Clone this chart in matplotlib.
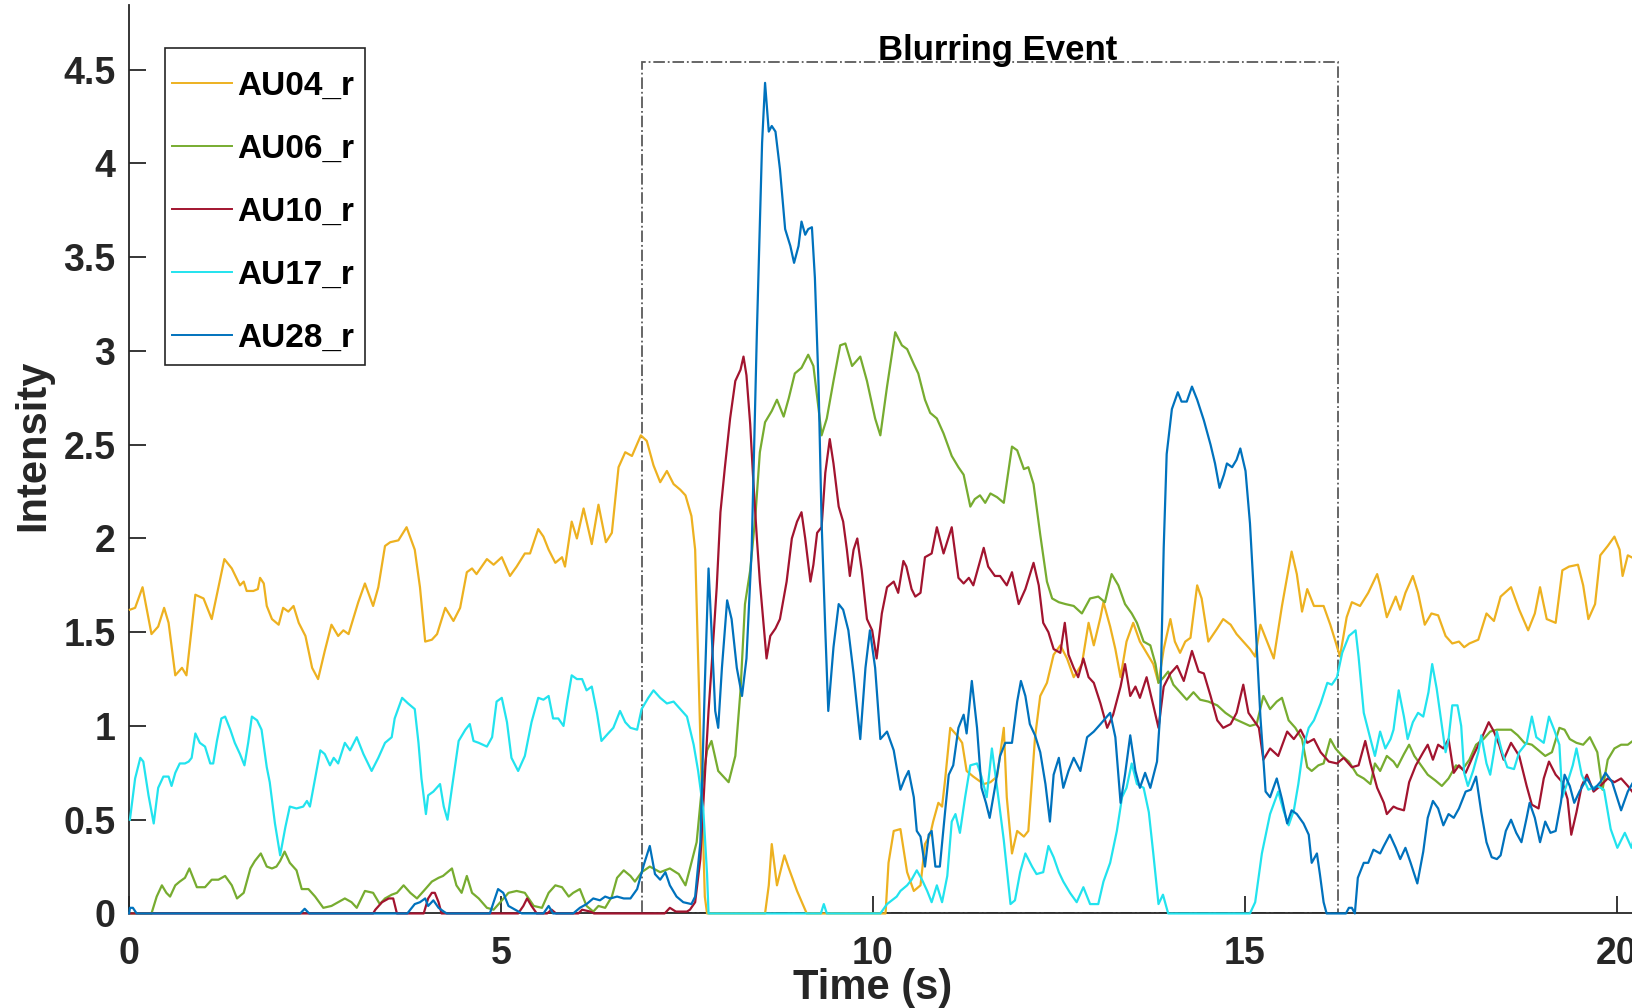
import matplotlib
matplotlib.use("Agg")
import matplotlib.pyplot as plt
from matplotlib.patches import Rectangle

plt.rcParams['font.family'] = ['Liberation Sans', 'DejaVu Sans']
plt.rcParams['font.weight'] = 'bold'

# AU04_r (orange)
au04_t = [0.01, 0.08, 0.18, 0.30, 0.39, 0.47, 0.53, 0.62, 0.71, 0.77, 0.89, 1.00, 1.11, 1.28, 1.38, 1.49,
          1.54, 1.58, 1.67, 1.73, 1.76, 1.81, 1.85, 1.92, 2.01, 2.07, 2.14, 2.21, 2.28, 2.37, 2.46, 2.54,
          2.63, 2.72, 2.81, 2.88, 2.95, 3.08, 3.17, 3.28, 3.35, 3.44, 3.51, 3.62, 3.73, 3.84, 3.91, 3.98,
          4.07, 4.14, 4.25, 4.36, 4.45, 4.54, 4.61, 4.67, 4.81, 4.90, 5.01, 5.12, 5.21, 5.32, 5.39, 5.50,
          5.57, 5.64, 5.73, 5.82, 5.86, 5.95, 6.02, 6.11, 6.22, 6.31, 6.41, 6.49, 6.58, 6.67, 6.76, 6.88,
          6.96, 7.05, 7.14, 7.23, 7.32, 7.41, 7.48, 7.56, 7.61, 7.65, 7.70, 7.74, 7.77, 8.55, 8.60, 8.64,
          8.71, 8.81, 8.87, 8.98, 9.11, 10.17, 10.21, 10.28, 10.37, 10.46, 10.55, 10.64, 10.70, 10.77,
          10.81, 10.88, 10.93, 10.97, 11.04, 11.13, 11.20, 11.26, 11.35, 11.49, 11.58, 11.67, 11.76, 11.80,
          11.87, 11.94, 12.03, 12.09, 12.18, 12.25, 12.34, 12.43, 12.52, 12.61, 12.70, 12.81, 12.90, 12.97,
          13.06, 13.10, 13.19, 13.26, 13.33, 13.41, 13.50, 13.59, 13.68, 13.77, 13.84, 13.91, 14.00, 14.06,
          14.13, 14.20, 14.27, 14.36, 14.42, 14.51, 14.63, 14.71, 14.81, 14.89, 14.98, 15.07, 15.14, 15.21,
          15.30, 15.39, 15.50, 15.63, 15.70, 15.77, 15.84, 15.93, 16.06, 16.15, 16.22, 16.28, 16.37, 16.44,
          16.55, 16.66, 16.78, 16.82, 16.91, 17.03, 17.09, 17.16, 17.26, 17.33, 17.42, 17.51, 17.60, 17.70,
          17.79, 17.88, 17.95, 18.02, 18.14, 18.25, 18.35, 18.44, 18.58, 18.69, 18.81, 18.90, 18.97, 19.06,
          19.18, 19.27, 19.36, 19.48, 19.55, 19.62, 19.71, 19.78, 19.88, 19.97, 20.04, 20.08, 20.15, 20.25,
          20.33]
au04_v = [1.62, 1.63, 1.74, 1.49, 1.53, 1.63, 1.55, 1.27, 1.31, 1.27, 1.70, 1.68, 1.57, 1.89, 1.84, 1.75,
          1.77, 1.72, 1.72, 1.73, 1.79, 1.76, 1.64, 1.57, 1.54, 1.63, 1.61, 1.64, 1.55, 1.48, 1.31, 1.25,
          1.40, 1.54, 1.48, 1.51, 1.49, 1.66, 1.76, 1.64, 1.74, 1.96, 1.98, 1.99, 2.06, 1.94, 1.74, 1.45,
          1.46, 1.49, 1.63, 1.56, 1.63, 1.82, 1.84, 1.81, 1.89, 1.86, 1.90, 1.80, 1.85, 1.92, 1.92, 2.05,
          2.01, 1.94, 1.87, 1.90, 1.85, 2.09, 2.00, 2.16, 1.97, 2.18, 1.98, 2.03, 2.38, 2.46, 2.44, 2.55,
          2.52, 2.39, 2.30, 2.36, 2.29, 2.26, 2.23, 2.12, 1.94, 1.36, 0.64, 0.09, 0.00, 0.00, 0.15, 0.37,
          0.15, 0.31, 0.24, 0.12, 0.00, 0.00, 0.27, 0.44, 0.45, 0.22, 0.12, 0.15, 0.37, 0.42,
          0.49, 0.59, 0.57, 0.71, 0.99, 0.95, 0.91, 0.76, 0.73, 0.69, 0.70, 0.73, 0.99, 0.62,
          0.32, 0.44, 0.41, 0.44, 0.94, 1.16, 1.23, 1.38, 1.43, 1.36, 1.26, 1.33, 1.55, 1.43,
          1.58, 1.66, 1.53, 1.41, 1.26, 1.45, 1.55, 1.45, 1.39, 1.33, 1.23, 1.41, 1.57, 1.45,
          1.39, 1.45, 1.47, 1.75, 1.68, 1.45, 1.52, 1.57, 1.54, 1.49, 1.45, 1.41, 1.37, 1.54,
          1.45, 1.36, 1.64, 1.93, 1.81, 1.61, 1.73, 1.64, 1.64, 1.54, 1.45, 1.37, 1.58, 1.66,
          1.64, 1.71, 1.81, 1.75, 1.58, 1.69, 1.62, 1.71, 1.80, 1.71, 1.54, 1.60, 1.59, 1.48,
          1.44, 1.45, 1.42, 1.44, 1.46, 1.60, 1.56, 1.69, 1.74, 1.62, 1.51, 1.60, 1.74, 1.57,
          1.55, 1.83, 1.85, 1.86, 1.75, 1.57, 1.65, 1.91, 1.96, 2.01, 1.94, 1.80, 1.91, 1.89,
          1.92]

# AU06_r (green)
au06_t = [0.00, 0.30, 0.37, 0.44, 0.50, 0.55, 0.62, 0.68, 0.75, 0.81, 0.86, 0.91, 1.02, 1.11, 1.20, 1.29,
          1.38, 1.45, 1.54, 1.63, 1.69, 1.77, 1.85, 1.92, 1.98, 2.03, 2.09, 2.16, 2.25, 2.32, 2.41, 2.50,
          2.61, 2.72, 2.81, 2.90, 2.99, 3.06, 3.17, 3.28, 3.37, 3.44, 3.53, 3.60, 3.69, 3.78, 3.87, 3.96,
          4.07, 4.16, 4.22, 4.34, 4.40, 4.47, 4.54, 4.61, 4.70, 4.81, 4.90, 4.99, 5.10, 5.21, 5.32, 5.44,
          5.55, 5.64, 5.73, 5.82, 5.91, 5.97, 6.06, 6.15, 6.24, 6.31, 6.40, 6.49, 6.56, 6.65, 6.74, 6.80,
          6.89, 7.00, 7.14, 7.27, 7.39, 7.48, 7.54, 7.63, 7.70, 7.77, 7.83, 7.92, 8.06, 8.15, 8.22, 8.28,
          8.35, 8.42, 8.48, 8.55, 8.64, 8.71, 8.80, 8.87, 8.95, 9.04, 9.13, 9.20, 9.27, 9.31, 9.38, 9.47,
          9.56, 9.63, 9.72, 9.83, 9.92, 10.03, 10.10, 10.19, 10.30, 10.39, 10.46, 10.55, 10.61, 10.70,
          10.77, 10.86, 10.95, 11.06, 11.15, 11.22, 11.31, 11.37, 11.44, 11.51, 11.58, 11.67, 11.76, 11.87,
          11.94, 12.03, 12.09, 12.16, 12.25, 12.34, 12.41, 12.50, 12.59, 12.70, 12.81, 12.92, 13.03, 13.12,
          13.21, 13.30, 13.39, 13.48, 13.55, 13.64, 13.73, 13.80, 13.84, 13.91, 13.97, 14.04, 14.13, 14.22,
          14.31, 14.40, 14.51, 14.63, 14.74, 14.85, 14.96, 15.07, 15.16, 15.25, 15.34, 15.43, 15.50, 15.59,
          15.68, 15.77, 15.84, 15.90, 15.99, 16.06, 16.15, 16.22, 16.31, 16.40, 16.51, 16.60, 16.69, 16.75,
          16.82, 16.91, 17.00, 17.05, 17.14, 17.21, 17.28, 17.37, 17.46, 17.56, 17.65, 17.74, 17.84, 17.93,
          18.02, 18.11, 18.21, 18.30, 18.39, 18.48, 18.58, 18.67, 18.76, 18.86, 18.95, 19.04, 19.13, 19.23,
          19.30, 19.37, 19.46, 19.55, 19.64, 19.74, 19.81, 19.88, 19.97, 20.06, 20.15, 20.25, 20.33]
au06_v = [0.00, 0.00, 0.09, 0.15, 0.11, 0.09, 0.15, 0.17, 0.19, 0.24, 0.19, 0.14, 0.14, 0.18, 0.18, 0.20,
          0.15, 0.08, 0.11, 0.24, 0.28, 0.32, 0.25, 0.24, 0.25, 0.28, 0.33, 0.27, 0.23, 0.13, 0.13, 0.09,
          0.03, 0.04, 0.06, 0.08, 0.06, 0.03, 0.12, 0.11, 0.05, 0.08, 0.10, 0.11, 0.15, 0.11, 0.08, 0.12,
          0.17, 0.19, 0.20, 0.24, 0.15, 0.11, 0.20, 0.11, 0.08, 0.03, 0.02, 0.06, 0.11, 0.12, 0.11, 0.04,
          0.03, 0.11, 0.15, 0.14, 0.09, 0.11, 0.13, 0.04, 0.01, 0.04, 0.03, 0.09, 0.19, 0.23, 0.20, 0.17,
          0.22, 0.25, 0.22, 0.24, 0.21, 0.15, 0.24, 0.38, 0.67, 0.87, 0.92, 0.76, 0.70, 0.84, 1.19, 1.65,
          1.83, 2.12, 2.46, 2.62, 2.68, 2.74, 2.65, 2.75, 2.88, 2.91, 2.98, 2.92, 2.69, 2.55, 2.64, 2.84,
          3.03, 3.04, 2.92, 2.97, 2.84, 2.64, 2.55, 2.81, 3.10, 3.03, 3.01, 2.93, 2.88, 2.74,
          2.67, 2.64, 2.56, 2.44, 2.38, 2.34, 2.17, 2.21, 2.23, 2.19, 2.24, 2.22, 2.19, 2.49,
          2.47, 2.37, 2.38, 2.29, 2.02, 1.77, 1.68, 1.66, 1.65, 1.64, 1.60, 1.68, 1.69, 1.66,
          1.81, 1.75, 1.65, 1.60, 1.55, 1.45, 1.43, 1.33, 1.23, 1.26, 1.29, 1.22, 1.18, 1.14,
          1.18, 1.14, 1.13, 1.11, 1.07, 1.04, 1.02, 1.00, 1.01, 1.16, 1.09, 1.13, 1.15, 1.03,
          0.99, 0.93, 0.78, 0.76, 0.79, 0.80, 0.93, 0.88, 0.84, 0.81, 0.74, 0.72, 0.69, 0.80,
          0.76, 0.84, 0.81, 0.78, 0.85, 0.90, 0.84, 0.79, 0.74, 0.71, 0.68, 0.72, 0.79, 0.77,
          0.82, 0.90, 0.93, 0.97, 0.98, 0.98, 0.98, 0.95, 0.91, 0.90, 0.87, 0.84, 0.86, 0.99,
          0.98, 0.93, 0.91, 0.90, 0.94, 0.86, 0.66, 0.82, 0.88, 0.90, 0.90, 0.93, 1.04]

# AU10_r (red)
au10_t = [0.00, 3.28, 3.31, 3.40, 3.49, 3.55, 3.60, 3.96, 4.02, 4.07, 4.11, 4.16, 4.20, 5.23, 5.30, 5.35,
          5.41, 5.48, 5.62, 5.68, 5.74, 6.04, 6.09, 6.20, 6.25, 7.20, 7.27, 7.35, 7.50, 7.54, 7.61, 7.68,
          7.74, 7.79, 7.83, 7.90, 7.95, 8.01, 8.08, 8.15, 8.22, 8.26, 8.30, 8.35, 8.39, 8.44, 8.48, 8.53,
          8.57, 8.62, 8.69, 8.75, 8.84, 8.91, 8.98, 9.04, 9.09, 9.16, 9.20, 9.25, 9.31, 9.36, 9.42, 9.47,
          9.54, 9.60, 9.65, 9.69, 9.74, 9.79, 9.85, 9.92, 9.99, 10.05, 10.12, 10.19, 10.28, 10.34, 10.41,
          10.45, 10.52, 10.57, 10.64, 10.70, 10.79, 10.86, 10.95, 11.06, 11.15, 11.22, 11.29, 11.35, 11.49,
          11.55, 11.64, 11.71, 11.80, 11.87, 11.96, 12.05, 12.16, 12.23, 12.29, 12.36, 12.43, 12.52, 12.58,
          12.63, 12.70, 12.76, 12.83, 12.90, 12.97, 13.06, 13.15, 13.23, 13.33, 13.39, 13.46, 13.53, 13.59,
          13.68, 13.77, 13.84, 13.91, 14.00, 14.09, 14.18, 14.29, 14.38, 14.45, 14.54, 14.63, 14.71, 14.81,
          14.89, 14.98, 15.05, 15.12, 15.19, 15.25, 15.34, 15.45, 15.57, 15.66, 15.75, 15.84, 15.93, 16.02,
          16.13, 16.24, 16.33, 16.44, 16.53, 16.62, 16.69, 16.78, 16.87, 16.91, 17.00, 17.05, 17.14, 17.21,
          17.30, 17.40, 17.46, 17.53, 17.60, 17.67, 17.74, 17.81, 17.88, 17.97, 18.07, 18.18, 18.28, 18.35,
          18.42, 18.48, 18.58, 18.69, 18.79, 18.86, 18.95, 19.02, 19.09, 19.18, 19.27, 19.34, 19.39, 19.46,
          19.53, 19.60, 19.69, 19.78, 19.88, 19.97, 20.06, 20.15, 20.25, 20.33]
au10_v = [0.00, 0.00, 0.02, 0.06, 0.08, 0.08, 0.00, 0.00, 0.08, 0.11, 0.11, 0.06, 0.00, 0.00, 0.04, 0.08,
          0.04, 0.00, 0.00, 0.02, 0.00, 0.00, 0.02, 0.01, 0.00, 0.00, 0.03, 0.01, 0.01, 0.02, 0.06, 0.29,
          0.73, 1.08, 1.31, 1.74, 2.14, 2.38, 2.64, 2.84, 2.90, 2.97, 2.87, 2.61, 2.32, 2.00, 1.77, 1.54,
          1.36, 1.48, 1.52, 1.57, 1.77, 2.00, 2.09, 2.14, 2.00, 1.77, 1.86, 2.03, 2.06, 2.35, 2.53, 2.40,
          2.17, 2.09, 1.94, 1.80, 1.94, 2.00, 1.83, 1.57, 1.51, 1.36, 1.60, 1.74, 1.77, 1.71, 1.88,
          1.85, 1.73, 1.69, 1.71, 1.90, 1.92, 2.06, 1.92, 2.06, 1.79, 1.76, 1.79, 1.75, 1.95,
          1.85, 1.80, 1.80, 1.75, 1.82, 1.65, 1.73, 1.87, 1.75, 1.55, 1.50, 1.41, 1.39, 1.55,
          1.38, 1.31, 1.26, 1.36, 1.26, 1.23, 1.12, 0.99, 1.06, 1.21, 1.33, 1.16, 1.21, 1.15,
          1.26, 1.11, 0.99, 1.21, 1.28, 1.32, 1.24, 1.40, 1.29, 1.28, 1.16, 1.03, 0.99, 1.01,
          1.07, 1.22, 1.07, 1.03, 0.99, 0.82, 0.88, 0.84, 0.97, 0.93, 0.98, 0.91, 0.93, 0.86,
          0.81, 0.80, 0.83, 0.78, 0.79, 0.92, 0.80, 0.67, 0.59, 0.53, 0.57, 0.56, 0.55, 0.70,
          0.79, 0.86, 0.90, 0.82, 0.90, 0.88, 0.93, 0.75, 0.79, 0.75, 0.84, 0.93, 1.02, 0.97,
          0.90, 0.82, 0.91, 0.84, 0.68, 0.58, 0.56, 0.72, 0.81, 0.74, 0.70, 0.61, 0.42, 0.54,
          0.68, 0.74, 0.65, 0.68, 0.72, 0.70, 0.72, 0.68, 0.63, 0.68]

# AU17_r (cyan)
au17_t = [0.01, 0.08, 0.15, 0.19, 0.26, 0.33, 0.39, 0.46, 0.53, 0.57, 0.62, 0.68, 0.75, 0.80, 0.84, 0.89,
          0.95, 1.02, 1.09, 1.13, 1.18, 1.24, 1.29, 1.36, 1.42, 1.49, 1.55, 1.60, 1.65, 1.72, 1.78, 1.85,
          1.89, 1.96, 2.03, 2.10, 2.16, 2.25, 2.34, 2.39, 2.43, 2.50, 2.57, 2.63, 2.70, 2.75, 2.81, 2.90,
          2.97, 3.06, 3.15, 3.26, 3.35, 3.44, 3.53, 3.57, 3.67, 3.75, 3.84, 3.89, 3.93, 3.99, 4.02, 4.09,
          4.18, 4.23, 4.28, 4.34, 4.43, 4.52, 4.58, 4.63, 4.70, 4.81, 4.88, 4.94, 5.01, 5.08, 5.14, 5.23,
          5.32, 5.41, 5.50, 5.57, 5.64, 5.70, 5.77, 5.84, 5.89, 5.95, 6.02, 6.09, 6.15, 6.22, 6.29, 6.35,
          6.44, 6.51, 6.60, 6.67, 6.74, 6.83, 6.89, 6.98, 7.05, 7.14, 7.23, 7.32, 7.41, 7.50, 7.59, 7.65,
          7.72, 7.77, 7.79, 9.30, 9.34, 9.38, 10.10, 10.19, 10.32, 10.37, 10.46, 10.52, 10.59, 10.66,
          10.73, 10.79, 10.86, 10.93, 11.00, 11.06, 11.11, 11.17, 11.24, 11.31, 11.40, 11.46, 11.53, 11.60,
          11.67, 11.76, 11.85, 11.91, 11.98, 12.05, 12.14, 12.20, 12.29, 12.36, 12.43, 12.50, 12.56, 12.65,
          12.74, 12.83, 12.92, 13.03, 13.10, 13.19, 13.28, 13.35, 13.41, 13.48, 13.55, 13.64, 13.71, 13.77,
          13.84, 13.90, 13.97, 15.07, 15.14, 15.23, 15.34, 15.45, 15.52, 15.59, 15.66, 15.72, 15.79, 15.86,
          15.93, 16.02, 16.11, 16.17, 16.24, 16.31, 16.40, 16.49, 16.53, 16.60, 16.69, 16.75, 16.82, 16.89,
          16.96, 17.00, 17.07, 17.14, 17.19, 17.26, 17.33, 17.40, 17.47, 17.52, 17.58, 17.65, 17.70, 17.74,
          17.79, 17.86, 17.91, 17.95, 18.00, 18.07, 18.14, 18.18, 18.25, 18.30, 18.35, 18.39, 18.46, 18.53,
          18.62, 18.69, 18.79, 18.86, 18.92, 19.02, 19.09, 19.16, 19.23, 19.27, 19.34, 19.41, 19.46, 19.53,
          19.62, 19.74, 19.83, 19.92, 20.01, 20.11, 20.20, 20.27, 20.33]
au17_v = [0.50, 0.72, 0.83, 0.81, 0.63, 0.48, 0.67, 0.73, 0.73, 0.68, 0.75, 0.80, 0.80, 0.81, 0.83, 0.96,
          0.91, 0.89, 0.80, 0.80, 0.92, 1.04, 1.05, 0.98, 0.91, 0.85, 0.79, 0.91, 1.05, 1.03, 0.98, 0.78,
          0.70, 0.48, 0.31, 0.46, 0.57, 0.56, 0.57, 0.60, 0.57, 0.72, 0.87, 0.85, 0.79, 0.83, 0.80, 0.91,
          0.87, 0.94, 0.85, 0.76, 0.83, 0.91, 0.94, 1.04, 1.15, 1.12, 1.09, 0.91, 0.72, 0.53, 0.63, 0.65,
          0.69, 0.57, 0.50, 0.67, 0.92, 0.98, 1.01, 0.92, 0.91, 0.89, 0.94, 1.13, 1.15, 1.02, 0.83, 0.76,
          0.84, 1.02, 1.15, 1.14, 1.16, 1.04, 1.04, 1.00, 1.13, 1.27, 1.25, 1.25, 1.19, 1.21, 1.07, 0.92,
          0.96, 0.99, 1.08, 1.02, 0.99, 0.98, 1.09, 1.15, 1.19, 1.15, 1.12, 1.13, 1.09, 1.05, 0.90, 0.76,
          0.55, 0.21, 0.00, 0.00, 0.05, 0.00, 0.00, 0.05, 0.09, 0.12, 0.15, 0.18, 0.23, 0.18,
          0.12, 0.06, 0.15, 0.06, 0.20, 0.49, 0.53, 0.43, 0.62, 0.79, 0.80, 0.73, 0.62, 0.88,
          0.67, 0.39, 0.05, 0.07, 0.22, 0.32, 0.25, 0.21, 0.22, 0.36, 0.30, 0.22, 0.17, 0.11,
          0.06, 0.14, 0.05, 0.05, 0.17, 0.27, 0.44, 0.62, 0.67, 0.80, 0.69, 0.67, 0.54, 0.32,
          0.05, 0.10, 0.00, 0.00, 0.06, 0.32, 0.53, 0.65, 0.55, 0.47, 0.55, 0.69, 0.89, 0.99,
          1.03, 1.12, 1.23, 1.22, 1.26, 1.39, 1.48, 1.51, 1.37, 1.07, 0.93, 0.84, 0.97, 0.88,
          0.93, 0.98, 1.19, 1.05, 0.93, 1.02, 1.07, 1.05, 1.18, 1.33, 1.20, 1.00, 0.86, 0.93,
          1.11, 1.11, 1.00, 0.75, 0.68, 0.76, 0.86, 0.95, 0.80, 0.74, 0.86, 0.97, 0.86, 0.78,
          0.77, 0.86, 0.91, 1.05, 0.94, 0.91, 1.05, 0.98, 0.90, 0.62, 0.70, 0.79, 0.88, 0.74,
          0.66, 0.68, 0.66, 0.45, 0.35, 0.43, 0.35, 0.47, 0.68]

# AU28_r (blue)
au28_t = [0.00, 0.01, 0.05, 0.10, 2.30, 2.36, 2.42, 3.74, 3.78, 3.84, 3.91, 3.98, 4.02, 4.09, 4.16, 4.23,
          4.27, 4.85, 4.90, 4.96, 5.03, 5.10, 5.19, 5.28, 5.57, 5.64, 5.70, 5.97, 6.06, 6.15, 6.24, 6.33,
          6.40, 6.47, 6.56, 6.65, 6.74, 6.83, 6.92, 7.00, 7.07, 7.14, 7.21, 7.27, 7.36, 7.45, 7.56, 7.61,
          7.68, 7.74, 7.79, 7.83, 7.88, 7.92, 7.97, 8.04, 8.10, 8.17, 8.24, 8.30, 8.37, 8.44, 8.51, 8.55,
          8.60, 8.64, 8.69, 8.75, 8.82, 8.89, 8.94, 9.00, 9.04, 9.09, 9.13, 9.18, 9.22, 9.27, 9.31, 9.36,
          9.40, 9.47, 9.54, 9.60, 9.67, 9.74, 9.83, 9.90, 9.96, 10.03, 10.10, 10.19, 10.28, 10.37, 10.43,
          10.48, 10.55, 10.59, 10.64, 10.70, 10.75, 10.79, 10.84, 10.90, 10.97, 11.02, 11.08, 11.15, 11.22,
          11.26, 11.33, 11.40, 11.46, 11.52, 11.57, 11.64, 11.71, 11.78, 11.87, 11.94, 11.99, 12.05, 12.11,
          12.18, 12.25, 12.32, 12.38, 12.43, 12.50, 12.56, 12.63, 12.70, 12.79, 12.88, 12.97, 13.06, 13.19,
          13.26, 13.33, 13.39, 13.46, 13.53, 13.59, 13.66, 13.73, 13.82, 13.86, 13.91, 13.95, 14.02, 14.10,
          14.15, 14.22, 14.29, 14.36, 14.45, 14.54, 14.60, 14.66, 14.72, 14.76, 14.83, 14.89, 14.94, 15.01,
          15.07, 15.14, 15.21, 15.28, 15.34, 15.43, 15.50, 15.57, 15.63, 15.70, 15.79, 15.86, 15.90, 15.97,
          16.01, 16.06, 16.10, 16.36, 16.40, 16.44, 16.48, 16.52, 16.60, 16.66, 16.73, 16.82, 16.87, 16.95,
          17.03, 17.09, 17.16, 17.23, 17.32, 17.40, 17.46, 17.53, 17.60, 17.67, 17.74, 17.81, 17.88, 17.97,
          18.04, 18.11, 18.18, 18.25, 18.32, 18.39, 18.44, 18.51, 18.58, 18.65, 18.72, 18.79, 18.83, 18.90,
          18.97, 19.04, 19.11, 19.18, 19.25, 19.30, 19.37, 19.43, 19.50, 19.60, 19.69, 19.78, 19.85, 19.94,
          20.06, 20.15, 20.25, 20.33]
au28_v = [0.00, 0.03, 0.03, 0.00, 0.00, 0.025, 0.00, 0.00, 0.02, 0.05, 0.06, 0.08, 0.04, 0.07, 0.03, 0.01,
          0.00, 0.00, 0.06, 0.13, 0.11, 0.04, 0.02, 0.00, 0.00, 0.04, 0.00, 0.00, 0.03, 0.05, 0.08, 0.07,
          0.09, 0.08, 0.09, 0.08, 0.08, 0.13, 0.26, 0.36, 0.21, 0.18, 0.22, 0.15, 0.09, 0.06, 0.05, 0.09,
          0.38, 1.22, 1.84, 1.51, 1.08, 0.99, 1.31, 1.67, 1.57, 1.31, 1.16, 1.36, 1.94, 3.10, 4.11, 4.43,
          4.17, 4.20, 4.17, 3.97, 3.65, 3.56, 3.47, 3.56, 3.69, 3.62, 3.65, 3.66, 3.39, 2.81, 2.09, 1.51,
          1.08, 1.42, 1.65, 1.62, 1.51, 1.28, 0.93, 1.31, 1.51, 1.31, 0.93, 0.97, 0.87, 0.66, 0.72,
          0.76, 0.62, 0.44, 0.41, 0.25, 0.42, 0.44, 0.25, 0.25, 0.54, 0.74, 0.79, 0.99, 1.06,
          0.96, 1.24, 0.99, 0.67, 0.59, 0.51, 0.67, 0.84, 0.91, 0.91, 1.13, 1.24, 1.16, 1.01,
          0.95, 0.86, 0.69, 0.49, 0.74, 0.83, 0.67, 0.76, 0.83, 0.76, 0.94, 0.97, 1.01, 1.07,
          0.94, 0.59, 0.74, 0.95, 0.76, 0.67, 0.75, 0.67, 0.81, 1.05, 1.95, 2.45, 2.69, 2.78,
          2.73, 2.73, 2.81, 2.74, 2.63, 2.50, 2.40, 2.27, 2.34, 2.40, 2.38, 2.42, 2.48, 2.36,
          2.08, 1.58, 1.05, 0.65, 0.62, 0.72, 0.61, 0.48, 0.55, 0.53, 0.48, 0.42, 0.27, 0.32,
          0.21, 0.06, 0.00, 0.00, 0.03, 0.03, 0.00, 0.19, 0.27, 0.27, 0.34, 0.32, 0.36, 0.42,
          0.35, 0.29, 0.35, 0.27, 0.16, 0.33, 0.51, 0.60, 0.56, 0.47, 0.53, 0.51, 0.56, 0.65,
          0.66, 0.73, 0.54, 0.38, 0.30, 0.29, 0.31, 0.44, 0.50, 0.43, 0.38, 0.51, 0.59, 0.51,
          0.38, 0.49, 0.43, 0.44, 0.59, 0.74, 0.68, 0.59, 0.65, 0.72, 0.66, 0.70, 0.75, 0.70,
          0.55, 0.65, 0.72, 0.74]

series = [
    ('AU04_r', au04_t, au04_v, '#EDB120'),
    ('AU06_r', au06_t, au06_v, '#77AC30'),
    ('AU10_r', au10_t, au10_v, '#A2142F'),
    ('AU17_r', au17_t, au17_v, '#22E3EE'),
    ('AU28_r', au28_t, au28_v, '#0072BD'),
]

event_start = 6.9
event_end = 16.25
event_top = 4.54

yticks = [0, 0.5, 1, 1.5, 2, 2.5, 3, 3.5, 4, 4.5]
xticks = [0, 5, 10, 15, 20]

W, H = 1633, 1008
fig = plt.figure(figsize=(W / 100, H / 100), dpi=100)
ax = fig.add_axes([0.0791, 0.0938, 0.9209, 0.901])

ax.add_patch(Rectangle((event_start, 0), event_end - event_start, event_top,
                       fill=False, linestyle='-.', linewidth=1.3, edgecolor='#5a5a5a', zorder=1))
ax.text((event_start + event_end) / 2 + 0.1, event_top + 0.012, 'Blurring Event',
        ha='center', va='baseline', fontsize=25, fontweight='bold', color='black')

for name, t, v, c in series:
    ax.plot(t, v, color=c, linewidth=1.6, label=name, clip_on=False, zorder=3)

ax.set_xlim(0, 20.22)
ax.set_ylim(0, 4.844)
ax.set_xticks(xticks)
ax.set_xticklabels(['%g' % x for x in xticks])
ax.set_yticks(yticks)
ax.set_yticklabels(['%g' % y for y in yticks])

for s in ['top', 'right']:
    ax.spines[s].set_visible(False)
for s in ['left', 'bottom']:
    ax.spines[s].set_color('#262626')
    ax.spines[s].set_linewidth(1.3)

ax.tick_params(axis='both', direction='in', length=12.5, width=1.3, color='#262626',
               labelsize=27, labelcolor='#262626')
ax.tick_params(axis='y', pad=10)
ax.tick_params(axis='x', pad=16)
for lab in ax.get_xticklabels() + ax.get_yticklabels():
    lab.set_fontweight('bold')

ax.set_xlabel('Time (s)', fontsize=30, fontweight='bold', color='#262626', va='baseline')
ax.xaxis.set_label_coords(873 / W, 1 - 999 / H, transform=fig.transFigure)
ax.set_ylabel('Intensity', fontsize=30, fontweight='bold', color='#262626', va='center')
ax.yaxis.set_label_coords(33 / W, 1 - 445 / H, transform=fig.transFigure)

# legend box drawn separately so its padding can match the reference
ax.add_patch(Rectangle((165 / W, 1 - 365 / H), 200 / W, 316.7 / H, transform=fig.transFigure,
                       facecolor='white', edgecolor='#262626', linewidth=1.2, zorder=4,
                       clip_on=False))
leg = ax.legend(loc='upper left', bbox_to_anchor=(171.7 / W, 1 - 71 / H),
                bbox_transform=fig.transFigure, borderaxespad=0, frameon=False,
                handlelength=1.8, handletextpad=0.17, labelspacing=0.96, borderpad=0,
                prop={'weight': 'bold', 'size': 24})
leg.set_zorder(5)
for h in leg.get_lines():
    h.set_linewidth(1.4)

fig.savefig('out.png', dpi=100)
